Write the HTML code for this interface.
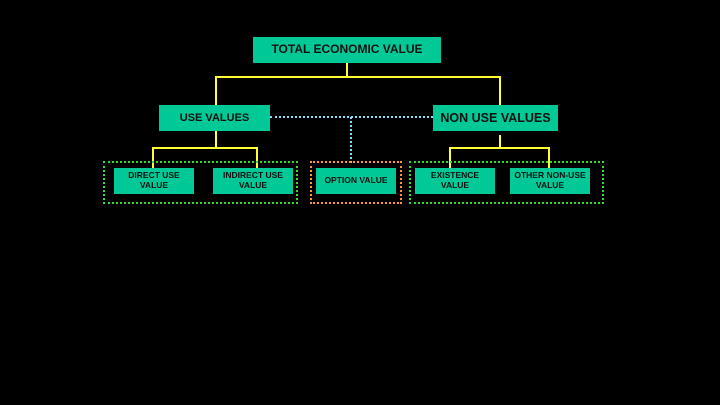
<!DOCTYPE html>
<html><head><style>
body{margin:0;background:#000;width:720px;height:405px;overflow:hidden;position:relative;font-family:"Liberation Sans",Arial,sans-serif}
.b{position:absolute;background:#00c896;color:#111;font-weight:bold;display:flex;align-items:center;justify-content:center;text-align:center;line-height:1.15}
.l{position:absolute;background:#ffff33}
.d{position:absolute;box-sizing:border-box}
</style></head><body>
<div class="l" style="left:346px;top:63px;width:2px;height:14px"></div>
<div class="l" style="left:215px;top:76px;width:286px;height:2px"></div>
<div class="l" style="left:215px;top:76px;width:2px;height:29px"></div>
<div class="l" style="left:499px;top:76px;width:2px;height:29px"></div>
<div class="l" style="left:215px;top:131px;width:2px;height:18px"></div>
<div class="l" style="left:152px;top:147px;width:106px;height:2px"></div>
<div class="l" style="left:152px;top:147px;width:2px;height:21px"></div>
<div class="l" style="left:256px;top:147px;width:2px;height:21px"></div>
<div class="l" style="left:499px;top:135px;width:2px;height:14px"></div>
<div class="l" style="left:449px;top:147px;width:101px;height:2px"></div>
<div class="l" style="left:449px;top:147px;width:2px;height:21px"></div>
<div class="l" style="left:548px;top:147px;width:2px;height:21px"></div>
<div class="d" style="left:270px;top:116px;width:163px;height:0;border-top:2px dotted #7fe0ff"></div>
<div class="d" style="left:350px;top:117px;width:0;height:46px;border-left:2px dotted #7fe0ff"></div>
<div class="d" style="left:103px;top:161px;width:195px;height:43px;border:2px dotted #33dd33"></div>
<div class="d" style="left:310px;top:161px;width:92px;height:43px;border:2px dotted #ff9933"></div>
<div class="d" style="left:409px;top:161px;width:195px;height:43px;border:2px dotted #33dd33"></div>
<div class="b" style="left:253px;top:37px;width:188px;height:26px;font-size:12px">TOTAL ECONOMIC VALUE</div>
<div class="b" style="left:159px;top:105px;width:111px;height:26px;font-size:11px">USE VALUES</div>
<div class="b" style="left:433px;top:105px;width:125px;height:26px;font-size:12.5px">NON USE VALUES</div>
<div class="b" style="left:114px;top:168px;width:80px;height:26px;font-size:8.5px">DIRECT USE<br>VALUE</div>
<div class="b" style="left:213px;top:168px;width:80px;height:26px;font-size:8.5px">INDIRECT USE<br>VALUE</div>
<div class="b" style="left:316px;top:168px;width:80px;height:26px;font-size:8.5px">OPTION VALUE</div>
<div class="b" style="left:415px;top:168px;width:80px;height:26px;font-size:8.5px">EXISTENCE<br>VALUE</div>
<div class="b" style="left:510px;top:168px;width:80px;height:26px;font-size:8.5px">OTHER NON-USE<br>VALUE</div>
</body></html>
